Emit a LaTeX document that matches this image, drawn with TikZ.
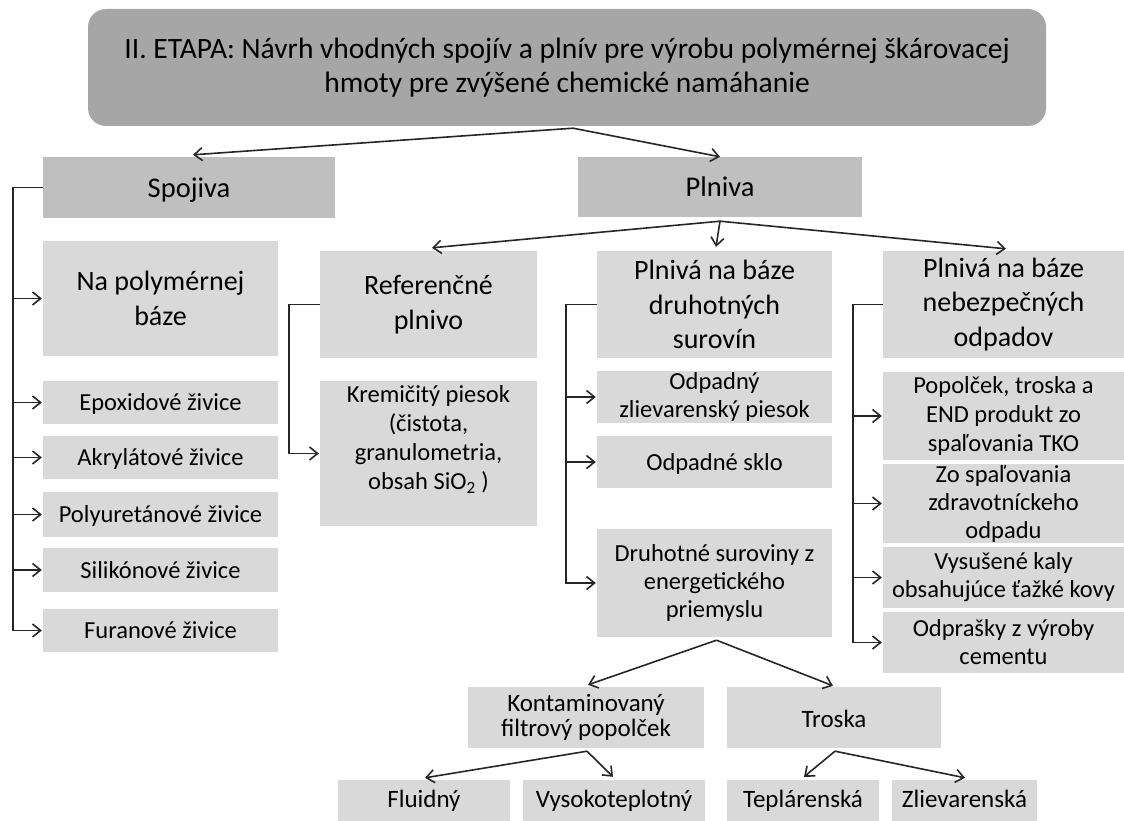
\documentclass[tikz,border=0pt]{standalone}
\usepackage{fontspec}
\setmainfont{Carlito}
\usetikzlibrary{arrows.meta}
\definecolor{topgray}{HTML}{A6A6A6}
\definecolor{midgray}{HTML}{BFBFBF}
\definecolor{lgray}{HTML}{D9D9D9}
\definecolor{linec}{HTML}{262626}
\newcommand\mkbox[7]{%
  \pgfmathsetmacro\mkcx{(#3+#5)/2}%
  \pgfmathsetmacro\mkcy{(#4+#6)/2}%
  \pgfmathsetmacro\mkw{#5-#3}%
  \pgfmathsetmacro\mkh{#6-#4}%
  \node[#1, minimum width=\mkw pt, minimum height=\mkh pt] (#2) at (\mkcx,\mkcy) {#7};}
\begin{document}
\begin{tikzpicture}[x=1pt,y=-1pt,
  box/.style={fill=lgray, inner sep=0pt, align=center, text=black},
  midbox/.style={box, fill=midgray},
  topbox/.style={box, fill=topgray, rounded corners=18pt},
  titlef/.style={font=\fontsize{29.5}{34}\selectfont},
  lvl/.style={font=\fontsize{28.5}{34}\selectfont, text height=22pt, text depth=3pt},
  big/.style={font=\fontsize{28}{34.5}\selectfont},
  small/.style={font=\fontsize{24.5}{29}\selectfont},
  one/.style={small, text height=19pt, text depth=3pt},
  smallt/.style={font=\fontsize{24.5}{28}\selectfont},
  low/.style={font=\fontsize{25}{25.5}\selectfont},
  lowone/.style={low, text height=21pt, text depth=2pt},
  lowrow/.style={low, text height=18pt, text depth=7pt},
  arr/.style={draw=linec, line width=1.6pt, -{Straight Barb[length=8pt,width=13pt]}},
]
\useasboundingbox (0,0) rectangle (1124,821);
% title
\mkbox{topbox,titlef}{title}{88}{9}{1046}{126}{II. ETAPA: Návrh vhodných spojív a plnív pre výrobu polymérnej škárovacej\\hmoty pre zvýšené chemické namáhanie}
% level 1
\mkbox{midbox,lvl}{spoj}{43}{157}{335}{218}{Spojiva}
\mkbox{midbox,lvl}{plniva}{578}{157}{862}{217}{Plniva}
% spojiva children
\mkbox{box,big}{na}{43}{241}{278}{356}{Na polymérnej\\báze}
\mkbox{box,one}{epo}{43}{381}{278}{424}{Epoxidové živice}
\mkbox{box,one}{akr}{43}{436}{278}{479}{Akrylátové živice}
\mkbox{box,one}{pol}{43}{492}{278}{537}{Polyuretánové živice}
\mkbox{box,one}{sil}{43}{548}{278}{592}{Silikónové živice}
\mkbox{box,one}{fur}{43}{609}{278}{652}{Furanové živice}
% referencne
\mkbox{box,big}{ref}{320}{251}{537}{358}{Referenčné\\plnivo}
\mkbox{box}{krem}{320}{381}{537}{526}{}
\node[small, align=center, inner sep=0pt] (kremt) at ([yshift=14pt]krem.center) {Kremičitý piesok\\(čistota,\\granulometria,\\obsah SiO\textsubscript{2} )};
% druhotne
\mkbox{box,big}{druh}{597}{251}{832}{358}{Plnivá na báze\\druhotných\\surovín}
\mkbox{box,smallt}{odpp}{597}{371}{832}{423}{Odpadný\\zlievarenský piesok}
\mkbox{box,one}{odps}{597}{436}{832}{488}{Odpadné sklo}
\mkbox{box,smallt}{dsur}{597}{529}{832}{637}{Druhotné suroviny z\\energetického\\priemyslu}
% nebezpecne
\mkbox{box,big}{neb}{883}{251}{1124}{358}{Plnivá na báze\\nebezpečných\\odpadov}
\mkbox{box,small}{popo}{883}{372}{1124}{460}{Popolček, troska a\\END produkt zo\\spaľovania TKO}
\mkbox{box,smallt}{zosp}{883}{464}{1124}{543}{Zo spaľovania\\zdravotníckeho\\odpadu}
\mkbox{box,smallt}{vysu}{883}{547}{1124}{608}{Vysušené kaly\\obsahujúce ťažké kovy}
\mkbox{box,smallt}{odpr}{883}{612}{1124}{673}{Odprašky z výroby\\cementu}
% lower levels
\mkbox{box,low}{kont}{468}{687}{704}{748}{Kontaminovaný\\filtrový popolček}
\mkbox{box,lowone}{tros}{727}{687}{941}{748}{Troska}
\mkbox{box,lowrow}{flui}{338}{780}{510}{824}{Fluidný}
\mkbox{box,lowrow}{vyso}{523}{780}{705}{824}{Vysokoteplotný}
\mkbox{box,lowrow}{tepl}{727}{780}{879}{824}{Teplárenská}
\mkbox{box,lowrow}{zlie}{892}{780}{1037}{824}{Zlievarenská}
% connectors
\coordinate (ts) at ([xshift=6pt,yshift=-2pt]title.south);
\draw[arr] (ts) -- ([xshift=4pt,yshift=2pt]spoj.north);
\draw[arr] (ts) -- (plniva.north);
\foreach \c in {na,epo,akr,pol,sil,fur}
  \draw[arr] (spoj.west) -- ++(-30pt,0) |- ([xshift=-1pt]\c.west);
\coordinate (ps) at ([yshift=-4pt]plniva.south);
\draw[arr] (ps) -- ([xshift=3.5pt,yshift=3pt]ref.north);
\draw[arr] (ps) -- ([xshift=1.5pt,yshift=4pt]druh.north);
\draw[arr] (ps) -- ([xshift=2.5pt,yshift=2pt]neb.north);
\draw[arr] (ref.west) -- ++(-31pt,0) |- ([xshift=-1pt]krem.west);
\foreach \c in {odpp,odps,dsur}
  \draw[arr] (druh.west) -- ++(-31pt,0) |- ([xshift=-1pt]\c.west);
\foreach \c in {popo,zosp,vysu,odpr}
  \draw[arr] (neb.west) -- ++(-30pt,0) |- ([xshift=-1pt]\c.west);
\coordinate (ds) at ([xshift=2pt,yshift=-3pt]dsur.south);
\draw[arr] (ds) -- ([xshift=2pt,yshift=2pt]kont.north);
\draw[arr] (ds) -- ([xshift=-1pt,yshift=1pt]tros.north);
\coordinate (ks) at ([xshift=1pt,yshift=-3pt]kont.south);
\draw[arr] (ks) -- ([xshift=1pt,yshift=2pt]flui.north);
\draw[arr] (ks) -- ([xshift=-1pt,yshift=3pt]vyso.north);
\coordinate (trs) at ([xshift=1pt,yshift=-3pt]tros.south);
\draw[arr] (trs) -- ([xshift=1pt,yshift=3pt]tepl.north);
\draw[arr] (trs) -- ([xshift=0.5pt,yshift=2pt]zlie.north);
\end{tikzpicture}
\end{document}
